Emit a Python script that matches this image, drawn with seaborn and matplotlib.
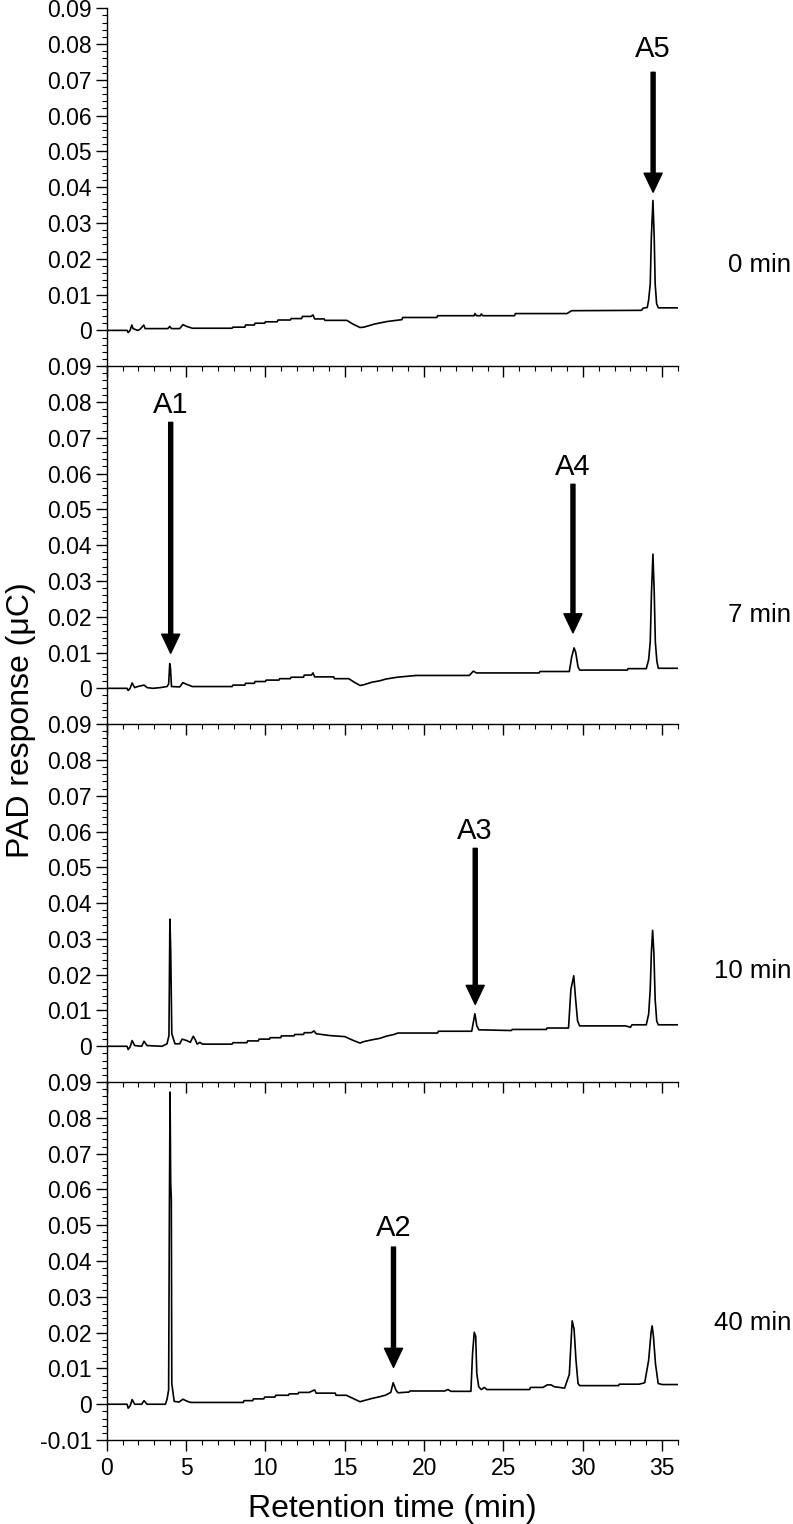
"""
Chromatograms (PAD response vs retention time) at four reaction times
"""

import numpy as np
import pandas as pd
import matplotlib
matplotlib.use('Agg')
import matplotlib.pyplot as plt
from matplotlib.transforms import blended_transform_factory
from matplotlib.ticker import MultipleLocator, FixedLocator, FixedFormatter
import seaborn as sns

sns.set_theme(style='ticks')
plt.rcParams['font.family'] = ['Liberation Sans', 'DejaVu Sans']
plt.rcParams['text.color'] = 'black'
plt.rcParams['axes.labelcolor'] = 'black'
plt.rcParams['xtick.color'] = 'black'
plt.rcParams['ytick.color'] = 'black'

# ---- data ----
PANEL_NAMES = ['0 min', '7 min', '10 min', '40 min']
NAME_Y = [0.0184, 0.0204, 0.021, 0.0226]

TIME_0 = [0, 1.28, 1.35, 1.47, 1.58, 1.66, 1.95, 2.1, 2.33, 2.42, 3.85, 3.97, 4.08, 4.6,
          4.8, 5.04, 5.4, 7.9, 7.95, 8.7, 8.75, 9.3, 9.35, 9.95, 10.0, 10.74, 10.8, 11.57,
          11.62, 12.28, 12.33, 12.87, 13.0, 13.1, 13.7, 13.75, 15.13, 15.5, 15.96, 16.2,
          16.9, 17.7, 18.6, 18.65, 20.8, 20.85, 23.15, 23.2, 23.3, 23.55, 23.6, 23.7, 25.7,
          25.75, 29.0, 29.3, 33.7, 33.8, 34.06, 34.15, 34.25, 34.32, 34.42, 34.5, 34.56,
          34.65, 34.76, 36]
RESP_0 = [0, 0, -0.0006, 0, 0.0015, 0.0005, 0.0, 0.0003, 0.0015, 0.0005, 0.0005, 0.0011,
          0.0005, 0.0005, 0.0016, 0.0011, 0.0006, 0.0006, 0.0009, 0.0009, 0.0015, 0.0015,
          0.002, 0.002, 0.0024, 0.0024, 0.0029, 0.0029, 0.0033, 0.0033, 0.0039, 0.0039,
          0.0043, 0.0032, 0.0032, 0.0028, 0.0028, 0.0018, 0.0008, 0.0009, 0.0018, 0.0025,
          0.003, 0.0036, 0.0036, 0.0041, 0.0041, 0.0047, 0.0041, 0.0041, 0.0046, 0.0041,
          0.0041, 0.0047, 0.0047, 0.0055, 0.0056, 0.0062, 0.0064, 0.0085, 0.013, 0.026,
          0.0363, 0.026, 0.013, 0.0075, 0.0063, 0.0063]

TIME_7 = [0, 1.28, 1.35, 1.47, 1.6, 1.76, 1.95, 2.35, 2.55, 2.9, 3.37, 3.8, 3.9, 3.97,
          4.02, 4.08, 4.6, 4.8, 5.04, 5.4, 7.9, 7.95, 8.7, 8.75, 9.3, 9.35, 10.0, 10.05,
          10.85, 10.9, 11.57, 11.62, 12.4, 12.45, 12.9, 13.0, 13.1, 14.3, 14.35, 15.25,
          15.6, 15.96, 16.2, 16.7, 17.2, 17.6, 18.3, 19.5, 22.85, 23.1, 23.3, 27.25, 27.3,
          29.15, 29.3, 29.45, 29.55, 29.7, 29.8, 32.8, 32.85, 34.0, 34.15, 34.25, 34.33,
          34.42, 34.5, 34.57, 34.67, 34.76, 36]
RESP_7 = [0, 0, -0.0006, 0, 0.0015, 0.0002, 0.0005, 0.0009, 0.0002, 0, 0.0002, 0.0005,
          0.0012, 0.0069, 0.0055, 0.0005, 0.0004, 0.0016, 0.0011, 0.0005, 0.0005, 0.0009,
          0.0009, 0.0014, 0.0014, 0.0019, 0.0019, 0.0023, 0.0023, 0.0027, 0.0027, 0.0031,
          0.0031, 0.0037, 0.0037, 0.0043, 0.0032, 0.0032, 0.0027, 0.0027, 0.0017, 0.0008,
          0.001, 0.0017, 0.0021, 0.0026, 0.0031, 0.0036, 0.0036, 0.0048, 0.0043, 0.0043,
          0.0047, 0.0047, 0.0088, 0.0113, 0.0101, 0.006, 0.0051, 0.0051, 0.0055, 0.0055,
          0.008, 0.013, 0.027, 0.0375, 0.027, 0.013, 0.0075, 0.0056, 0.0056]

TIME_10 = [0, 1.28, 1.35, 1.47, 1.6, 1.76, 2.2, 2.35, 2.54, 3.49, 3.8, 3.92, 3.98, 4.03,
           4.1, 4.3, 4.6, 4.75, 5.04, 5.27, 5.45, 5.56, 5.7, 5.87, 6.03, 7.9, 7.95, 8.83,
           8.88, 9.55, 9.6, 10.26, 10.3, 10.97, 11.0, 11.8, 11.85, 12.4, 12.45, 12.9,
           13.06, 13.2, 14.05, 15.0, 15.5, 15.96, 16.2, 16.7, 17.2, 17.6, 18.1, 18.35,
           20.85, 20.9, 23.0, 23.2, 23.32, 23.45, 25.5, 25.55, 27.7, 27.75, 29.1, 29.25,
           29.43, 29.55, 29.67, 29.8, 32.7, 33.0, 33.1, 34.0, 34.15, 34.25, 34.32, 34.4,
           34.48, 34.56, 34.66, 34.76, 36]
RESP_10 = [0, 0, -0.0009, -0.0002, 0.0016, 0.0002, 0, 0.0014, 0.0002, 0, 0.0007, 0.003,
           0.0355, 0.027, 0.0035, 0.0007, 0.0007, 0.002, 0.0016, 0.0011, 0.0028, 0.002,
           0.0006, 0.0011, 0.0006, 0.0006, 0.001, 0.001, 0.0015, 0.0015, 0.002, 0.002,
           0.0024, 0.0024, 0.0029, 0.0029, 0.0033, 0.0033, 0.0038, 0.0038, 0.0043, 0.0035,
           0.003, 0.0027, 0.0017, 0.0009, 0.0013, 0.0018, 0.0022, 0.0028, 0.0033, 0.0037,
           0.0037, 0.0042, 0.0042, 0.0091, 0.0057, 0.0046, 0.0044, 0.0047, 0.0047, 0.0051,
           0.0051, 0.0159, 0.0197, 0.013, 0.0071, 0.0057, 0.0057, 0.0053, 0.006, 0.006,
           0.009, 0.016, 0.026, 0.0324, 0.026, 0.013, 0.007, 0.006, 0.006]

TIME_40 = [0, 1.28, 1.35, 1.47, 1.6, 1.76, 2.2, 2.35, 2.54, 3.7, 3.8, 3.9, 3.95, 3.99,
           4.03, 4.07, 4.1, 4.25, 4.55, 4.8, 5.08, 5.3, 8.6, 8.65, 9.2, 9.25, 9.9, 9.95,
           10.6, 10.65, 11.45, 11.5, 12.05, 12.1, 12.75, 13.1, 13.2, 14.4, 14.45, 15.1,
           15.96, 16.2, 16.7, 17.2, 17.55, 17.9, 18.05, 18.22, 18.35, 19.05, 19.1, 21.3,
           21.5, 21.7, 22.95, 23.05, 23.16, 23.25, 23.32, 23.44, 23.6, 23.8, 23.95, 26.65,
           26.7, 27.5, 27.75, 28.0, 28.2, 28.85, 29.15, 29.33, 29.45, 29.57, 29.7, 29.8,
           32.25, 32.3, 33.55, 33.9, 34.15, 34.3, 34.37, 34.45, 34.58, 34.75, 35.0, 36]
RESP_40 = [0, 0, -0.0011, -0.0005, 0.0013, 0, 0, 0.001, 0, 0, 0.0014, 0.004, 0.056,
           0.0872, 0.062, 0.057, 0.0058, 0.0008, 0.0006, 0.0014, 0.0008, 0.0005, 0.0005,
           0.001, 0.001, 0.0015, 0.0015, 0.002, 0.002, 0.0025, 0.0025, 0.0029, 0.0029,
           0.0033, 0.0033, 0.004, 0.0031, 0.0031, 0.0025, 0.0025, 0.0007, 0.001, 0.0016,
           0.0021, 0.0025, 0.0033, 0.006, 0.004, 0.0032, 0.0034, 0.0037, 0.0037, 0.0041,
           0.0036, 0.0036, 0.014, 0.0201, 0.019, 0.0086, 0.0049, 0.0041, 0.0047, 0.0041,
           0.0041, 0.0047, 0.0047, 0.0054, 0.0054, 0.0049, 0.0045, 0.0083, 0.0233, 0.021,
           0.0123, 0.0058, 0.0052, 0.0052, 0.0056, 0.0056, 0.006, 0.0123, 0.02, 0.0219,
           0.019, 0.0113, 0.0058, 0.0055, 0.0055]

TIMES = [TIME_0, TIME_7, TIME_10, TIME_40]
RESPS = [RESP_0, RESP_7, RESP_10, RESP_40]

# peak arrows
ARROW_PANEL = [0, 1, 1, 2, 3]
ARROW_LABEL = ['A5', 'A1', 'A4', 'A3', 'A2']
ARROW_T = [34.43, 4.03, 29.38, 23.22, 18.07]
ARROW_TAIL = [0.0721, 0.0743, 0.057, 0.0553, 0.0439]
ARROW_TIP = [0.0386, 0.0098, 0.0155, 0.0117, 0.0103]
ARROW_TEXT_Y = [0.0763, 0.0769, 0.0595, 0.0579, 0.047]

XTICKS = [0, 5, 10, 15, 20, 25, 30, 35]
XTICK_LABELS = ['0', '5', '10', '15', '20', '25', '30', '35']
YTICKS = [0, 0.01, 0.02, 0.03, 0.04, 0.05, 0.06, 0.07, 0.08, 0.09]
YTICK_LABELS = ['0', '0.01', '0.02', '0.03', '0.04', '0.05', '0.06', '0.07', '0.08', '0.09']
YTICKS_LAST = [-0.01] + YTICKS
YTICK_LABELS_LAST = ['-0.01'] + YTICK_LABELS

TICK_FS = 16.5
PEAK_FS = 21
NAME_FS = 18.5
AXIS_FS = 23

fig, axes = plt.subplots(4, 1, figsize=(7.93, 15.24), dpi=100, sharex=True)
fig.subplots_adjust(left=0.1346, right=0.855, top=0.9946, bottom=0.0551, hspace=0)

for i, ax in enumerate(axes):
    df = pd.DataFrame({'t': TIMES[i], 'v': RESPS[i]})
    sns.lineplot(data=df, x='t', y='v', ax=ax, color='black', lw=1.2,
                 sort=False, estimator=None)
    ax.set_xlim(0, 36)
    ax.set_ylim(-0.01, 0.09)
    ax.set_facecolor('none')
    ax.set_xlabel('')
    ax.set_ylabel('')

    # only the left spine and the bottom border (shared with the panel below)
    ax.spines['top'].set_visible(False)
    ax.spines['right'].set_visible(False)
    for s in ['left', 'bottom']:
        ax.spines[s].set_linewidth(1.0)
        ax.spines[s].set_color('black')

    if i == 3:
        ax.yaxis.set_major_locator(FixedLocator(YTICKS_LAST))
        ax.yaxis.set_major_formatter(FixedFormatter(YTICK_LABELS_LAST))
    else:
        ax.yaxis.set_major_locator(FixedLocator(YTICKS))
        ax.yaxis.set_major_formatter(FixedFormatter(YTICK_LABELS))
    ax.yaxis.set_minor_locator(MultipleLocator(0.002))

    ax.xaxis.set_major_locator(FixedLocator(XTICKS))
    ax.xaxis.set_major_formatter(FixedFormatter(XTICK_LABELS))
    ax.xaxis.set_minor_locator(MultipleLocator(1))

    ax.tick_params(axis='y', which='major', direction='out', length=7.7, width=1.0,
                   labelsize=TICK_FS, pad=3, colors='black')
    ax.tick_params(axis='y', which='minor', direction='out', length=3.6, width=0.8,
                   colors='black')
    ax.tick_params(axis='x', which='major', direction='out', length=8, width=1.0,
                   labelsize=TICK_FS, pad=4, colors='black', labelbottom=(i == 3))
    ax.tick_params(axis='x', which='minor', direction='out', length=3.6, width=0.8,
                   colors='black')

    trans = blended_transform_factory(fig.transFigure, ax.transData)
    ax.text(0.998, NAME_Y[i], PANEL_NAMES[i], fontsize=NAME_FS, color='black',
            ha='right', va='center', transform=trans)

for p, lab, t, tail, tip, ty in zip(ARROW_PANEL, ARROW_LABEL, ARROW_T,
                                    ARROW_TAIL, ARROW_TIP, ARROW_TEXT_Y):
    ax = axes[p]
    ax.annotate('', xy=(t, tip), xytext=(t, tail),
                arrowprops=dict(facecolor='black', edgecolor='black', width=2.9,
                                headwidth=13, headlength=13.7, shrink=0))
    ax.text(t, ty, lab, fontsize=PEAK_FS, color='black', ha='center', va='baseline')

fig.text(6 / 793, 1 - 720 / 1524, 'PAD response (\u03bcC)', rotation=90,
         fontsize=AXIS_FS, color='black', ha='left', va='center')
fig.text(392 / 793, 1 - 1517 / 1524, 'Retention time (min)', fontsize=AXIS_FS,
         color='black', ha='center', va='baseline')

fig.savefig('out.png', dpi=100)
plt.close()
